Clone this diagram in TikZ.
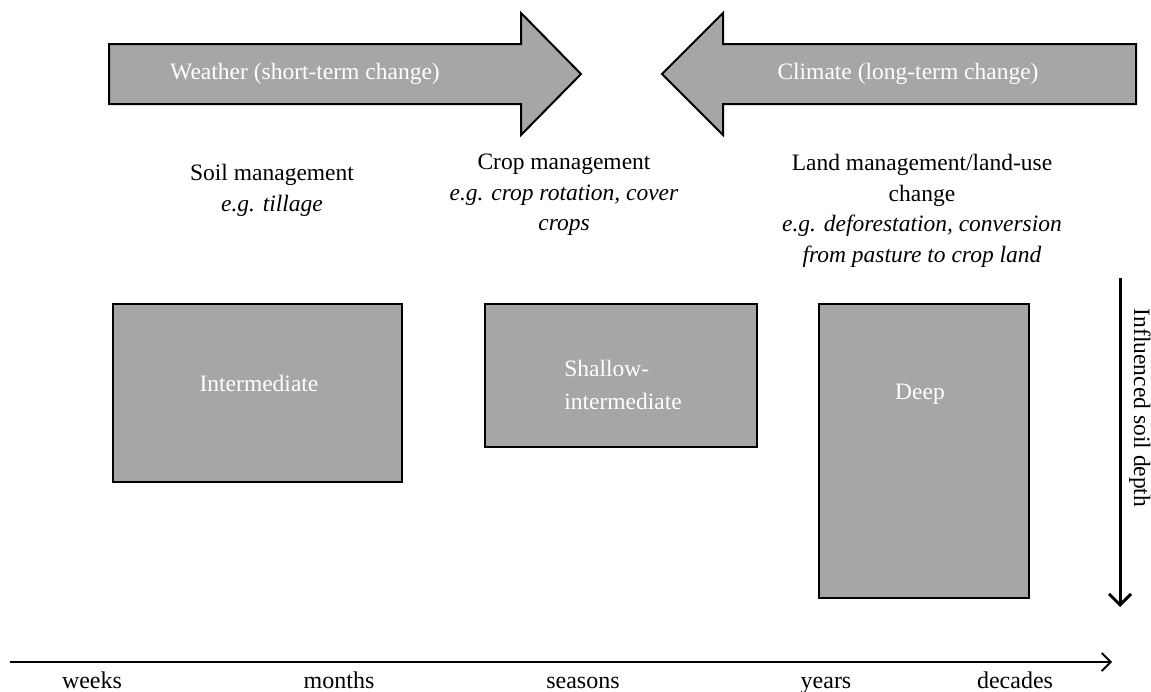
\documentclass[tikz,border=0pt]{standalone}
\usepackage{fontspec}
\setmainfont{Liberation Serif}
\usetikzlibrary{arrows.meta}
\definecolor{boxgray}{HTML}{A6A6A6}
\tikzset{
  grayshape/.style={fill=boxgray, draw=black, line width=2pt, line join=miter},
  whitetext/.style={text=white, font=\fontsize{23.5}{33}\selectfont, inner sep=0pt},
  headtext/.style={font=\fontsize{23.5}{30.5}\selectfont, align=center, inner sep=0pt, anchor=north},
  timetext/.style={font=\fontsize{24}{30}\selectfont, inner sep=0pt, anchor=base},
  axisline/.style={line width=1.8pt, -{Straight Barb[length=9pt,width=18pt,line width=1.8pt]}},
  depthline/.style={line width=3pt, -{Straight Barb[length=11pt,width=22pt,line width=3pt]}}
}
\begin{document}
\begin{tikzpicture}[x=1pt,y=-1pt]
\useasboundingbox (0,0) rectangle (1151,691);

% big arrows
\draw[grayshape] (109,44) -- (521,44) -- (521,13) -- (581,74) -- (521,135) -- (521,104) -- (109,104) -- cycle;
\node[whitetext] (weather) at (305,74) {Weather (short-term change)};
\draw[grayshape] (1136,44) -- (723,44) -- (723,13) -- (662,74) -- (723,135) -- (723,104) -- (1136,104) -- cycle;
\node[whitetext] (climate) at (908,74) {Climate (long-term change)};

% headings
\node[headtext] (soil) at (272,164) {Soil management\\\textit{e.g. tillage}};
\node[headtext] (crop) at (564,154) {Crop management\\\textit{e.g. crop rotation, cover}\\\textit{crops}};
\node[headtext] (land) at (922,154) {Land management/land-use\\change\\\textit{e.g. deforestation, conversion}\\\textit{from pasture to crop land}};

% boxes
\draw[grayshape] (113,304) rectangle (402,482);
\node[whitetext] (inter) at (259,383) {Intermediate};
\draw[grayshape] (485,304) rectangle (757,447);
\node[whitetext, align=left] (shallow) at (623,385) {Shallow-\\intermediate};
\draw[grayshape] (819,304) rectangle (1029,598);
\node[whitetext] (deep) at (920,394) {Deep};

% depth axis
\coordinate (dtop) at (1120,278);
\coordinate (dbot) at (1120,607);
\draw[depthline] (dtop) -- (dbot);
\node[font=\fontsize{23.5}{31}\selectfont, rotate=-90, inner sep=0pt] (depth) at (1140,408) {Influenced soil depth};

% time axis
\coordinate (tstart) at (10,662);
\coordinate (tend) at (1112,662);
\draw[axisline] (tstart) -- (tend);
\node[timetext] (weeks) at (92,688) {weeks};
\node[timetext] (months) at (339,688) {months};
\node[timetext] (seasons) at (583,688) {seasons};
\node[timetext] (years) at (826,688) {years};
\node[timetext] (decades) at (1015,688) {decades};
\end{tikzpicture}
\end{document}
